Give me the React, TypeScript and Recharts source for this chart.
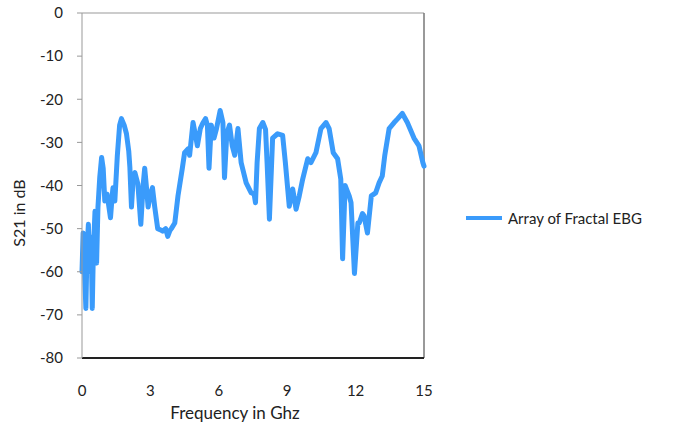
import { LineChart, Line, XAxis, YAxis, ReferenceLine, Legend } from "recharts";

// frequency in GHz
const freq = [
  0.0, 0.05, 0.1, 0.17, 0.22, 0.28, 0.34, 0.4, 0.45, 0.5, 0.57, 0.64, 0.7, 0.78, 0.86, 0.93,
  1.0, 1.1, 1.25, 1.33, 1.36, 1.44, 1.55, 1.65, 1.73, 1.85, 1.95, 2.05, 2.1, 2.17, 2.25, 2.32,
  2.45, 2.58, 2.68, 2.75, 2.82, 2.9, 3.0, 3.09, 3.19, 3.32, 3.45, 3.54, 3.67, 3.76, 3.85, 3.92,
  4.07, 4.21, 4.4, 4.5, 4.65, 4.72, 4.87, 4.98, 5.06, 5.19, 5.3, 5.42, 5.5, 5.57, 5.67, 5.79,
  5.9, 6.06, 6.18, 6.25, 6.35, 6.47, 6.59, 6.7, 6.84, 6.98, 7.2, 7.42, 7.55, 7.61, 7.68, 7.78,
  7.93, 8.05, 8.12, 8.22, 8.36, 8.58, 8.8, 8.92, 9.09, 9.24, 9.39, 9.53, 9.68, 9.9, 10.04, 10.26,
  10.48, 10.7, 10.84, 11.02, 11.21, 11.35, 11.43, 11.54, 11.65, 11.72, 11.8, 11.95, 12.1, 12.16,
  12.3, 12.37, 12.52, 12.69, 12.88, 13.03, 13.17, 13.28, 13.47, 13.69, 13.85, 14.05, 14.27, 14.56,
  14.78, 14.95, 15.0,
];

// S21 in dB
const s21 = [
  -60, -51, -58, -68.5, -55, -49, -60, -52, -68.5, -55, -46, -58, -45, -38, -33.5, -36,
  -43.6, -42, -47.5, -42, -40.5, -43.6, -33, -26, -24.5, -26, -28, -32, -35.8, -45, -38, -37,
  -39.6, -49, -40, -36, -40, -45, -42, -40.5, -45, -50, -50.3, -50.6, -50, -51.8, -50.5, -50,
  -48.7, -42.4, -36, -32.4, -31.5, -33, -25.4, -28.4, -30.8, -26.8, -25.5, -24.5, -26, -36, -26, -29,
  -26.8, -22.6, -25.4, -38.2, -28, -26, -30.8, -33, -26.8, -34.7, -39.4, -41.7, -42, -44, -34.7, -26.8,
  -25.4, -27, -35, -47.8, -29, -28, -28.4, -34.7, -44.8, -40.8, -45.5, -42.4, -38.5, -33.8, -34.7, -32.4,
  -26.8, -25.4, -26.8, -32.4, -33.8, -38.5, -57, -40, -41.5, -42.4, -44, -60.4, -48.7, -48.7,
  -46.5, -47, -51, -42.4, -41.7, -39.4, -37.8, -33, -26.8, -25.4, -24.5, -23.3, -25.4, -29,
  -30.8, -34.7, -35.5,
];

const xTicks = [0, 3, 6, 9, 12, 15];
const yTicks = [0, -10, -20, -30, -40, -50, -60, -70, -80];
const seriesName = "Array of Fractal EBG";

const data = freq.map((f, i) => ({ f, v: s21[i] }));

const FONT = "Lato, 'Open Sans', sans-serif";
const BLUE = "#3A9BFB";

function LegendBox() {
  return (
    <div style={{ display: "flex", alignItems: "center", fontFamily: FONT, fontSize: 15, color: "#222" }}>
      <svg width={42} height={10}>
        <line x1={0} y1={5} x2={36} y2={5} stroke={BLUE} strokeWidth={4} />
      </svg>
      <span>{seriesName}</span>
    </div>
  );
}

export default function App() {
  return (
    <div style={{ position: "absolute", left: 0, top: 0, background: "#fff" }}>
      <LineChart width={675} height={428} data={data} margin={{ top: 13, right: 251, left: 0, bottom: 30 }}>
        <XAxis
          dataKey="f"
          type="number"
          domain={[0, 15]}
          ticks={xTicks}
          height={40}
          tickLine={false}
          tickSize={6}
          tickMargin={21}
          axisLine={{ stroke: "#222", strokeWidth: 2 }}
          tick={{ fill: "#222", fontSize: 15, fontFamily: FONT }}
          label={{
            content: () => (
              <text x={235} y={419} textAnchor="middle" fill="#222" fontSize={17} fontFamily={FONT}>
                Frequency in Ghz
              </text>
            ),
          }}
        />
        <YAxis
          type="number"
          domain={[-80, 0]}
          ticks={yTicks}
          width={82}
          tickSize={5}
          tickMargin={14}
          axisLine={{ stroke: "#999" }}
          tickLine={{ stroke: "#999" }}
          tick={{ fill: "#222", fontSize: 15, fontFamily: FONT }}
          label={{
            content: () => (
              <text
                x={25}
                y={213}
                transform="rotate(-90 25 213)"
                textAnchor="middle"
                fill="#222"
                fontSize={16}
                fontFamily={FONT}
              >
                S21 in dB
              </text>
            ),
          }}
        />
        <ReferenceLine y={0} stroke="#999" />
        <ReferenceLine x={15} stroke="#777" strokeWidth={1.5} />
        <Legend
          layout="horizontal"
          verticalAlign="middle"
          content={() => <LegendBox />}
          wrapperStyle={{ position: "absolute", left: 466, top: 209, width: "auto" }}
        />
        <Line
          type="linear"
          dataKey="v"
          name={seriesName}
          stroke={BLUE}
          strokeWidth={5}
          strokeLinejoin="round"
          strokeLinecap="round"
          dot={false}
          isAnimationActive={false}
        />
      </LineChart>
    </div>
  );
}
